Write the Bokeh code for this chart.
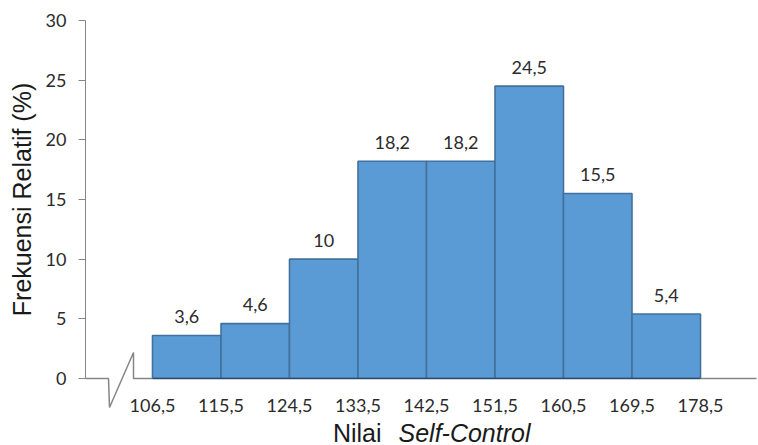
import math
from bokeh.plotting import figure
from bokeh.models import FixedTicker, Range1d
from bokeh.core.properties import value
from bokeh.embed import file_html
from bokeh.resources import INLINE

# Histogram of self-control scores (class boundaries and relative frequency, %)
edges = [106.5, 115.5, 124.5, 133.5, 142.5, 151.5, 160.5, 169.5, 178.5]
edge_labels = ["106,5", "115,5", "124,5", "133,5", "142,5", "151,5", "160,5", "169,5", "178,5"]
rel_freq = [3.6, 4.6, 10, 18.2, 18.2, 24.5, 15.5, 5.4]
y_ticks = [0, 5, 10, 15, 20, 25, 30]

W, H = 758, 445
FRAME_L, FRAME_R, FRAME_T, FRAME_B = 85, 756, 20, 378
FIRST_EDGE_PX, LAST_EDGE_PX = 152, 700

px_per_y = (FRAME_B - FRAME_T) / 30.0
px_per_x = (LAST_EDGE_PX - FIRST_EDGE_PX) / (edges[-1] - edges[0])
x_start = edges[0] - (FIRST_EDGE_PX - FRAME_L) / px_per_x
x_end = x_start + (FRAME_R - FRAME_L) / px_per_x


def xd(px):
    return edges[0] + (px - FIRST_EDGE_PX) / px_per_x


def yd(px):
    return (FRAME_B - px) / px_per_y


AXIS_GREY = "#868686"
TEXT = "#2b2b2b"
TITLE = "#1a1a1a"

p = figure(width=W, height=H, output_backend="svg", toolbar_location=None,
           x_range=Range1d(x_start, x_end), y_range=Range1d(0, 30),
           min_border_left=FRAME_L, min_border_right=W - FRAME_R,
           min_border_top=FRAME_T, min_border_bottom=H - FRAME_B)
p.outline_line_color = None
p.xgrid.visible = False
p.ygrid.visible = False
p.background_fill_color = "white"
p.border_fill_color = "white"

# y axis
ya = p.yaxis[0]
ya.ticker = FixedTicker(ticks=y_ticks)
ya.axis_line_color = AXIS_GREY
ya.major_tick_line_color = AXIS_GREY
ya.major_tick_out = 7
ya.major_tick_in = 0
ya.minor_tick_line_color = None
ya.major_label_standoff = 12
ya.major_label_text_font = "Lato"
ya.major_label_text_font_size = "18px"
ya.major_label_text_color = TEXT
ya.axis_label = "Frekuensi Relatif (%)"
ya.axis_label_text_font = "Liberation Sans"
ya.axis_label_text_font_size = "25px"
ya.axis_label_text_font_style = "normal"
ya.axis_label_text_color = TITLE
ya.axis_label_standoff = 7

# x axis: labels at the class boundaries; its line is drawn below with the break
xa = p.xaxis[0]
xa.ticker = FixedTicker(ticks=edges)
xa.major_label_overrides = {e: s for e, s in zip(edges, edge_labels)}
xa.axis_line_color = None
xa.major_tick_line_color = None
xa.minor_tick_line_color = None
xa.major_label_standoff = 14
xa.major_label_text_font = "Lato"
xa.major_label_text_font_size = "18px"
xa.major_label_text_color = TEXT

# bars
p.quad(left=edges[:-1], right=edges[1:], bottom=0, top=rel_freq,
       fill_color="#5B9BD5", line_color="#41719C", line_width=1.6)

# horizontal axis line with a scale break near the origin
brk_a, brk_b = xd(108), xd(133)
p.line([x_start, brk_a, brk_a + (brk_b - brk_a) * 0.04, brk_b, brk_b, xd(FIRST_EDGE_PX)],
       [0, 0, yd(407), yd(352), 0, 0],
       line_color=AXIS_GREY, line_width=1.5, level="overlay")
p.line([xd(LAST_EDGE_PX), x_end], [0, 0], line_color=AXIS_GREY, line_width=1.5,
       level="overlay")
p.line([edges[0], edges[-1]], [0, 0], line_color="#2a4a6b", line_width=1.6,
       level="overlay")

# value labels above the bars
mids = [(a + b) / 2 for a, b in zip(edges[:-1], edges[1:])]
texts = [f"{v:g}".replace(".", ",") for v in rel_freq]
p.text(x=mids, y=rel_freq, text=texts, text_align="center",
       text_baseline="alphabetic", y_offset=-19,
       text_font=value("Lato"), text_font_size="18px", text_color=TEXT)

# x-axis title with the italic term
TITLE_Y = yd(432)
p.text(x=[xd(381)], y=[TITLE_Y], text=["Nilai"], text_align="right",
       text_baseline="alphabetic", text_font=value("Liberation Sans"),
       text_font_size="25px", text_color=TITLE, level="overlay")
p.text(x=[xd(398)], y=[TITLE_Y], text=["Self-Control"], text_align="left",
       text_baseline="alphabetic", text_font=value("Liberation Sans"),
       text_font_style="italic", text_font_size="25px", text_color=TITLE,
       level="overlay")

open("out.html", "w").write(file_html(p, INLINE))
